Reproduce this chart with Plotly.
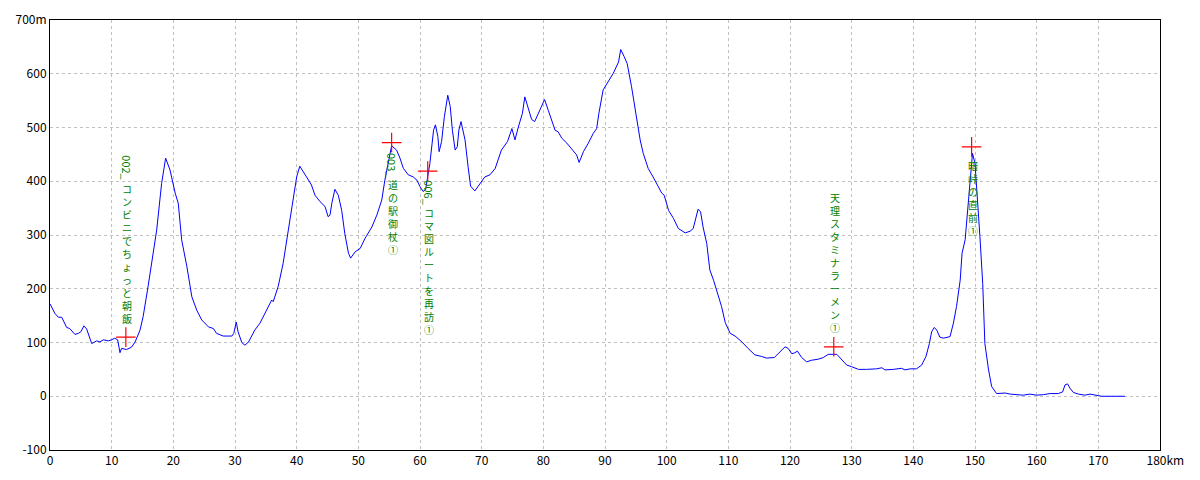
import plotly.graph_objects as go

# elevation profile (km, m)
dist_km = [
    0.0, 0.8, 1.35, 1.9, 2.7, 3.2, 4.05, 4.6, 5.0, 5.5, 5.95, 6.76, 7.57, 8.1, 8.65, 9.46,
    10.0, 10.5, 10.97, 11.35, 11.6, 12.4, 13.2, 13.8, 14.6, 15.1, 15.9, 16.5, 17.3, 18.1,
    18.75, 19.46, 20.3, 20.8, 21.35, 22.2, 23.0, 23.8, 24.6, 25.7, 26.5, 27.0, 28.1, 29.5,
    29.8, 30.2, 30.5, 31.1, 31.6, 32.2, 33.2, 34.05, 35.1, 35.95, 36.2, 37.0, 37.8, 38.3,
    39.2, 39.6, 40.0, 40.5, 41.1, 41.6, 42.4, 42.97, 43.8, 44.6, 45.1, 45.4, 45.7, 46.2,
    46.75, 47.3, 47.8, 48.4, 48.75, 49.5, 50.3, 51.1, 52.2, 53.0, 53.8, 54.3, 55.0, 55.4,
    56.2, 56.75, 57.3, 58.1, 58.9, 59.5, 60.0, 60.5, 60.9, 61.25, 61.6, 62.2, 62.5, 62.9,
    63.1, 63.5, 63.95, 64.5, 64.9, 65.25, 65.7, 66.05, 66.3, 66.65, 67.3, 67.8, 68.2, 68.9,
    69.7, 70.5, 71.35, 72.2, 73.2, 74.2, 74.9, 75.4, 75.95, 76.6, 77.0, 77.6, 78.1, 78.6,
    79.5, 80.2, 80.8, 81.35, 81.9, 82.4, 83.0, 83.8, 84.6, 85.4, 85.8, 86.5, 87.3, 88.1,
    88.65, 89.0, 89.7, 90.5, 91.35, 92.2, 92.55, 93.1, 93.6, 94.3, 95.1, 95.7, 96.2, 97.0,
    97.8, 98.4, 99.2, 99.6, 100.3, 101.1, 101.9, 103.0, 103.8, 104.3, 104.75, 105.1, 105.5,
    105.9, 106.5, 107.0, 107.6, 108.4, 108.9, 109.5, 110.3, 111.1, 112.2, 113.2, 114.3,
    115.4, 116.2, 117.45, 118.4, 119.2, 119.7, 120.3, 120.8, 121.2, 121.9, 122.7, 123.5,
    124.6, 125.4, 126.2, 127.6, 128.4, 129.2, 130.0, 131.1, 132.4, 134.05, 134.9, 135.4,
    136.75, 138.1, 138.65, 139.5, 140.5, 141.35, 142.05, 142.6, 142.97, 143.4, 143.8, 144.3,
    144.9, 145.95, 146.5, 147.0, 147.6, 147.9, 148.4, 148.8, 149.2, 149.6, 150.0, 150.4,
    150.8, 151.25, 151.6, 152.2, 152.7, 153.5, 154.9, 155.7, 157.8, 158.9, 160.0, 161.1,
    162.2, 163.5, 164.2, 164.6, 165.0, 165.4, 165.95, 166.8, 167.8, 168.65, 169.7, 170.5,
    174.3,
]
elev_m = [
    172, 154, 147, 147, 128, 126, 115, 117, 120, 131, 125, 98, 103, 101, 105, 103,
    105, 108, 105, 81, 89, 87, 91, 101, 123, 148, 204, 247, 309, 396,
    443, 421, 378, 359, 291, 241, 185, 160, 142, 129, 126, 117, 112, 112,
    117, 138, 120, 100, 95, 101, 123, 136, 160, 179, 176, 204, 247, 285,
    345, 378, 408, 428, 418, 408, 393, 374, 362, 353, 334, 337, 359, 385,
    374, 346, 303, 266, 257, 269, 275, 294, 315, 337, 365, 402, 443, 466,
    458, 443, 424, 412, 408, 402, 390, 381, 384, 408, 433, 495, 505, 483,
    455, 474, 520, 560, 539, 495, 458, 464, 495, 511, 477, 427, 391, 382,
    396, 408, 412, 424, 458, 474, 498, 477, 501, 526, 557, 536, 515, 511,
    536, 552, 532, 514, 495, 492, 480, 471, 461, 449, 435, 455, 471, 489,
    498, 526, 570, 585, 601, 622, 645, 632, 619, 576, 520, 477, 452, 424,
    408, 396, 378, 374, 346, 331, 312, 304, 307, 312, 334, 348, 343,
    315, 284, 235, 216, 185, 167, 137, 117, 112, 101, 89, 77,
    74, 71, 72, 83, 92, 89, 79, 81, 84, 72, 64, 67,
    69, 72, 78, 78, 67, 58, 55, 50, 50, 51, 53, 49,
    50, 52, 49, 51, 51, 58, 74, 98, 120, 128, 123, 110,
    108, 111, 136, 167, 216, 266, 291, 346, 402, 452, 433, 371,
    297, 210, 98, 49, 18, 5, 6, 4, 2, 4, 2, 3,
    5, 5, 8, 21, 23, 15, 7, 4, 2, 4, 2, 0,
    0,
]

# waypoints
wp_km = [12.3, 55.4, 61.25, 127.1, 149.45]
wp_elev = [110, 472, 419, 92, 464]
wp_prefix = ["002_", "003_", "006_", "", ""]
wp_body = ["コンビニでちょっと朝飯", "道の駅御杖①", "コマ図ルートを再訪①", "天理スタミナラーメン①", "暗峠の直前①"]

x_ticks = list(range(0, 181, 10))
x_ticktext = [str(v) for v in x_ticks[:-1]] + ["&nbsp;&nbsp;&nbsp;&nbsp;180km"]
y_ticks = list(range(-100, 701, 100))
y_ticktext = [str(v) for v in y_ticks[:-1]] + ["700m"]

# pixel offsets of the vertical labels relative to their marker (+ = up)
prefix_shift = [170, -22, -21, None, None]
body_shift = [84, -74, -100, 84, -51]

FONT = "Noto Sans CJK JP"
GREEN = "#008000"

fig = go.Figure()
fig.add_trace(go.Scatter(
    x=dist_km, y=elev_m, mode="lines",
    line={"color": "#0000ff", "width": 1},
    hoverinfo="skip", showlegend=False,
))
fig.add_trace(go.Scatter(
    x=wp_km, y=wp_elev, mode="markers",
    marker={"symbol": "cross-thin", "size": 14, "line": {"color": "#ff0000", "width": 1.2}},
    hoverinfo="skip", showlegend=False,
))

for i, (km, el) in enumerate(zip(wp_km, wp_elev)):
    if wp_prefix[i]:
        fig.add_annotation(
            x=km, y=el, xref="x", yref="y", text=wp_prefix[i], textangle=90,
            showarrow=False, yshift=prefix_shift[i], xshift=1,
            font={"family": FONT, "size": 11, "color": GREEN},
        )
    # vertical writing: one character per line
    fig.add_annotation(
        x=km, y=el, xref="x", yref="y", text="<br>".join(wp_body[i]),
        showarrow=False, yshift=body_shift[i], xshift=1, yanchor="middle",
        font={"family": FONT, "size": 10, "color": GREEN},
    )

axis_common = {
    "showgrid": True, "gridcolor": "#c0c0c0", "griddash": "3px,3px", "gridwidth": 1,
    "zeroline": False, "showline": True, "linecolor": "black", "linewidth": 1,
    "mirror": True, "ticks": "", "automargin": False,
    "tickfont": {"family": FONT, "size": 12, "color": "black"},
}
fig.update_xaxes(range=[0, 180], tickvals=x_ticks, ticktext=x_ticktext, **axis_common)
fig.update_yaxes(range=[-100, 700], tickvals=y_ticks, ticktext=y_ticktext, **axis_common)

# the page adds an 8px body margin, so the figure is kept 16px smaller
fig.update_layout(
    width=1184, height=464,
    margin={"l": 42, "r": 32, "t": 12, "b": 22},
    plot_bgcolor="white", paper_bgcolor="white",
    font={"family": FONT},
)

fig.write_html("out.html", config={"displayModeBar": False})
